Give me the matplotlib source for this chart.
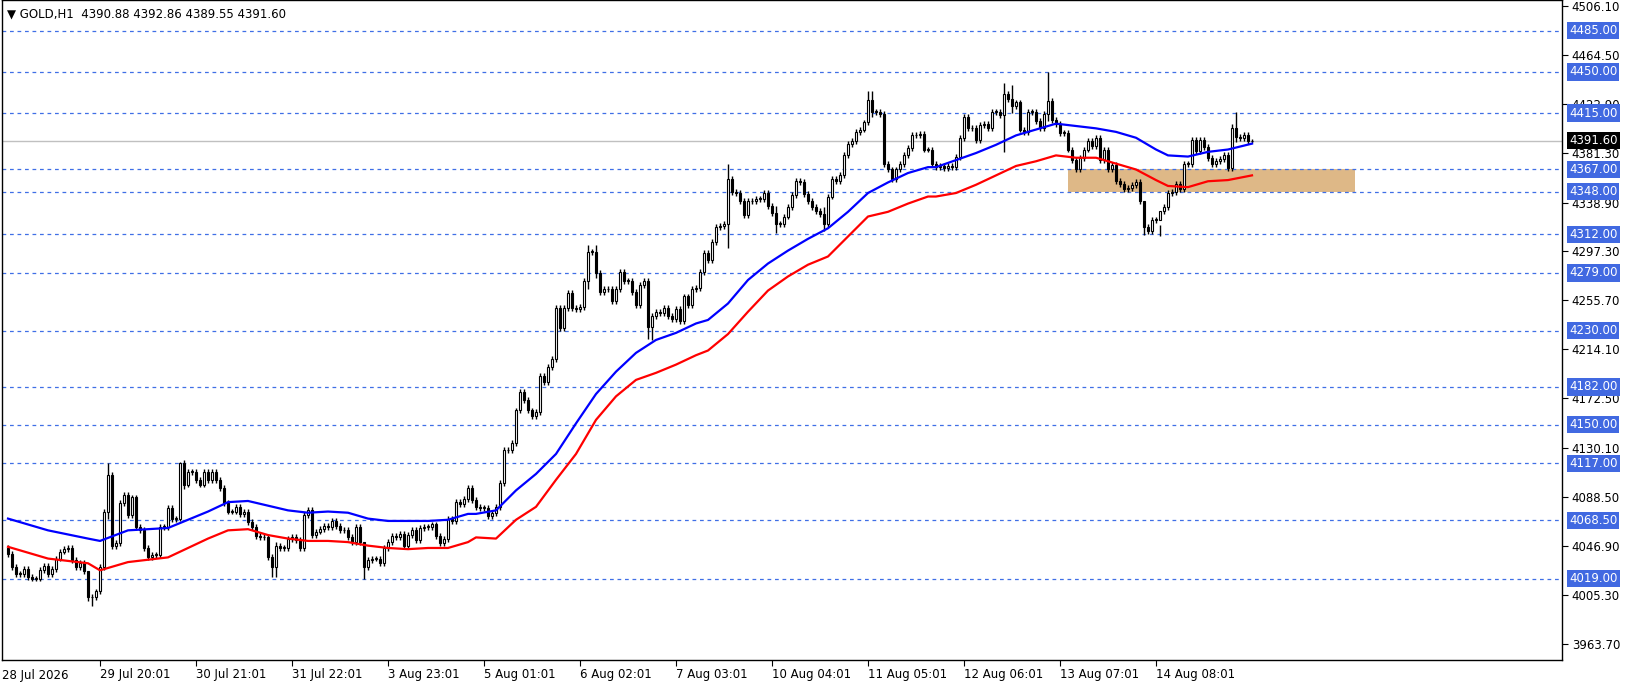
import matplotlib
matplotlib.use("Agg")
import matplotlib.pyplot as plt
from matplotlib.patches import Rectangle
import numpy as np

# hourly closes (312 bars)
closes = [
    4040, 4029, 4023, 4023, 4027, 4020, 4019, 4019, 4026, 4030,
    4023, 4027, 4036, 4042, 4044, 4045, 4035, 4029, 4032, 4025,
    4003, 4003, 4008, 4029, 4076, 4107, 4047, 4049, 4083, 4090,
    4073, 4088, 4063, 4060, 4045, 4037, 4039, 4039, 4063, 4063,
    4079, 4070, 4070, 4117, 4099, 4110, 4110, 4103, 4099, 4110,
    4103, 4110, 4103, 4096, 4083, 4076, 4076, 4080, 4074, 4076,
    4067, 4063, 4055, 4054, 4054, 4037, 4029, 4047, 4045, 4045,
    4053, 4054, 4052, 4045, 4073, 4077, 4056, 4059, 4061, 4064,
    4063, 4068, 4064, 4060, 4060, 4054, 4050, 4063, 4050, 4029,
    4035, 4036, 4036, 4032, 4045, 4050, 4055, 4054, 4057, 4047,
    4056, 4060, 4052, 4062, 4063, 4063, 4065, 4055, 4049, 4053,
    4070, 4068, 4084, 4082, 4087, 4096, 4086,
    4080, 4079, 4079, 4072, 4075, 4080, 4100, 4128, 4128, 4134,
    4162, 4178, 4171, 4162, 4157, 4161, 4191, 4186, 4199, 4206,
    4249, 4232, 4249, 4262, 4249, 4248, 4250, 4272, 4297, 4297,
    4279, 4263, 4265, 4265, 4255, 4265, 4280, 4272, 4272, 4263,
    4252, 4269, 4272, 4233, 4242, 4246, 4245, 4249, 4242, 4240,
    4248, 4238, 4259, 4252, 4265, 4266, 4280, 4296,
    4290, 4305, 4318, 4319, 4321, 4359, 4348, 4347, 4340, 4328,
    4340, 4340, 4342, 4342, 4347, 4336, 4330, 4321, 4321, 4327,
    4335, 4345, 4357, 4356, 4346, 4340, 4335, 4332, 4329, 4321,
    4344, 4359, 4357, 4362, 4379, 4389, 4391, 4399, 4401, 4407,
    4426, 4416, 4416, 4414, 4372, 4367, 4359, 4367, 4372, 4379,
    4385, 4396, 4396, 4397, 4384, 4384, 4372,
    4369, 4370, 4368, 4370, 4369, 4378, 4394, 4412, 4402, 4402,
    4392, 4405, 4406, 4402, 4416, 4416, 4413, 4431, 4427, 4421,
    4424, 4401, 4399, 4416, 4416, 4408, 4402, 4414, 4425, 4409,
    4406, 4398, 4398, 4384, 4375, 4367, 4377, 4384, 4391, 4387,
    4394, 4375, 4384, 4367, 4371, 4357, 4355, 4350, 4351, 4354,
    4356, 4340, 4318, 4315, 4324, 4324, 4332, 4335,
    4347, 4348, 4355, 4350, 4372, 4372, 4392, 4383, 4392, 4386,
    4377, 4372, 4374, 4376, 4379, 4368, 4402, 4395, 4394, 4396,
    4391, 4391.60,
]
first_open = 4045
last_bar = (4390.88, 4392.86, 4389.55, 4391.60)

# bars with long wicks: index -> (high, low)
wicks = {
    20: (4025, 4000), 21: (4006, 3996), 25: (4117, 4070), 43: (4118, 4068), 44: (4120, 4095),
    66: (4040, 4020), 67: (4050, 4020), 89: (4050, 4019),
    145: (4303, 4265), 147: (4303, 4275), 160: (4275, 4223), 161: (4245, 4222),
    180: (4372, 4300), 192: (4336, 4313), 204: (4335, 4315), 215: (4434, 4405), 216: (4434, 4412),
    249: (4441, 4382), 251: (4439, 4415), 260: (4450, 4408), 284: (4335, 4311), 288: (4320, 4310),
    306: (4406, 4366), 307: (4416, 4390),
}

# moving averages read at sample bars
ma_idx = [0, 10, 20, 23, 30, 40, 50, 55, 60, 65, 70, 75, 80, 85, 90, 95, 100, 105, 110, 115,
          117, 122, 127, 132, 137, 142, 147, 152, 157, 162, 167, 172, 175, 180, 185, 190, 195, 200,
          205, 210, 215, 220, 225, 230, 232, 237, 242, 247, 252, 257, 262, 267, 272, 277, 282, 287,
          290, 295, 300, 305, 311]
ma_fast = [4070, 4060, 4053, 4051, 4060, 4062, 4076, 4084, 4085, 4081, 4077, 4075, 4076, 4075,
           4070, 4068, 4068, 4068, 4069, 4074, 4074, 4077, 4094, 4108, 4125, 4151, 4176, 4195,
           4211, 4222, 4228, 4236, 4239, 4253, 4273, 4287, 4298, 4308, 4317, 4331, 4347, 4356,
           4364, 4369, 4369, 4375, 4381, 4388, 4396, 4401, 4406, 4404, 4402, 4399, 4394, 4384,
           4379, 4378, 4382, 4384, 4389]
ma_slow = [4046, 4036, 4032, 4026, 4033, 4037, 4053, 4060, 4061, 4056, 4053, 4051, 4051, 4050,
           4047, 4045, 4044, 4045, 4045, 4050, 4054, 4053, 4069, 4080, 4103, 4125, 4154, 4174,
           4188, 4194, 4201, 4209, 4213, 4227, 4246, 4264, 4276, 4286, 4293, 4310, 4327, 4331,
           4338, 4344, 4344, 4347, 4354, 4362, 4370, 4374, 4379, 4377, 4377, 4372, 4367, 4358,
           4353, 4352, 4357, 4358, 4362]

levels = [4485.00, 4450.00, 4415.00, 4367.00, 4348.00, 4312.00, 4279.00, 4230.00,
          4182.00, 4150.00, 4117.00, 4068.50, 4019.00]
axis_ticks = [4506.10, 4464.50, 4422.90, 4381.30, 4338.90, 4297.30, 4255.70, 4214.10,
              4172.50, 4130.10, 4088.50, 4046.90, 4005.30, 3963.70]
current = 4391.60
zone = (265, 336.75, 4348.0, 4367.0)  # x0, x1, low, high

date_labels = ["29 Jul 20:01", "30 Jul 21:01", "31 Jul 22:01", "3 Aug 23:01", "5 Aug 01:01",
               "6 Aug 02:01", "7 Aug 03:01", "10 Aug 04:01", "11 Aug 05:01", "12 Aug 06:01",
               "13 Aug 07:01", "14 Aug 08:01"]

closes = np.array(closes, dtype=float)
opens = np.concatenate([[first_open], closes[:-1]])
opens[-1] = last_bar[0]
highs = np.maximum(opens, closes) + 2.5
lows = np.minimum(opens, closes) - 2.5
for i, (h, l) in wicks.items():
    highs[i] = h
    lows[i] = l
highs[-1], lows[-1] = last_bar[1], last_bar[2]

fig = plt.figure(figsize=(16.26, 6.86), dpi=100)
ax = fig.add_axes([2 / 1626, 26 / 686, 1560 / 1626, 660 / 686])
ax.set_xlim(-1.5, 388.5)
ax.set_ylim(3949.7, 4511.2)

ax.add_patch(Rectangle((zone[0], zone[2]), zone[1] - zone[0], zone[3] - zone[2],
                       facecolor="#deb887", edgecolor="none", zorder=1))
for lv in levels:
    ax.axhline(lv, color="#3f6fe6", lw=0.9, ls=(0, (3, 3)), zorder=2)
ax.axhline(current, color="#c0c0c0", lw=1, zorder=2)

x = np.arange(len(closes))
ax.vlines(x, lows, highs, color="black", lw=1, zorder=3)
up = closes >= opens
bottoms = np.minimum(opens, closes)
heights = np.maximum(np.abs(closes - opens), 0.6)
ax.bar(x[up], heights[up], bottom=bottoms[up], width=0.62, facecolor="white",
       edgecolor="black", lw=0.8, zorder=4)
ax.bar(x[~up], heights[~up], bottom=bottoms[~up], width=0.62, facecolor="black",
       edgecolor="black", lw=0.8, zorder=4)

ax.plot(ma_idx, ma_fast, color="#0000ff", lw=1.6, zorder=5)
ax.plot(ma_idx, ma_slow, color="#ff0000", lw=1.6, zorder=5)

# right price scale
ax.yaxis.tick_right()
ax.set_yticks(axis_ticks)
ax.set_yticklabels([f"{v:.2f}" for v in axis_ticks], fontsize=8.5)
ax.tick_params(axis="y", length=4, width=0.8, pad=3)
tr = ax.get_yaxis_transform()
for lv in levels:
    ax.text(1.0045, lv, f"{lv:.2f}", transform=tr, va="center", ha="left", fontsize=8.5,
            color="white", clip_on=False, zorder=6,
            bbox=dict(boxstyle="square,pad=0.18", facecolor="#4169e1", edgecolor="none"))
ax.text(1.0045, current, f"{current:.2f}", transform=tr, va="center", ha="left", fontsize=8.5,
        color="white", clip_on=False, zorder=7,
        bbox=dict(boxstyle="square,pad=0.18", facecolor="black", edgecolor="none"))

# time scale
ticks = [23 + 24 * k for k in range(len(date_labels))]
ax.set_xticks(ticks)
ax.set_xticklabels(date_labels, fontsize=8.5, ha="left")
ax.tick_params(axis="x", length=4, width=0.8, pad=2)
ax.text(0.0, -0.013, "28 Jul 2026", transform=ax.transAxes, fontsize=8.5, ha="left", va="top")

for s in ax.spines.values():
    s.set_color("black")
    s.set_linewidth(1)

ax.text(0.003, 0.988, "\u25bc GOLD,H1  4390.88 4392.86 4389.55 4391.60", transform=ax.transAxes,
        fontsize=8.5, ha="left", va="top")

fig.savefig("out.png", dpi=100)
